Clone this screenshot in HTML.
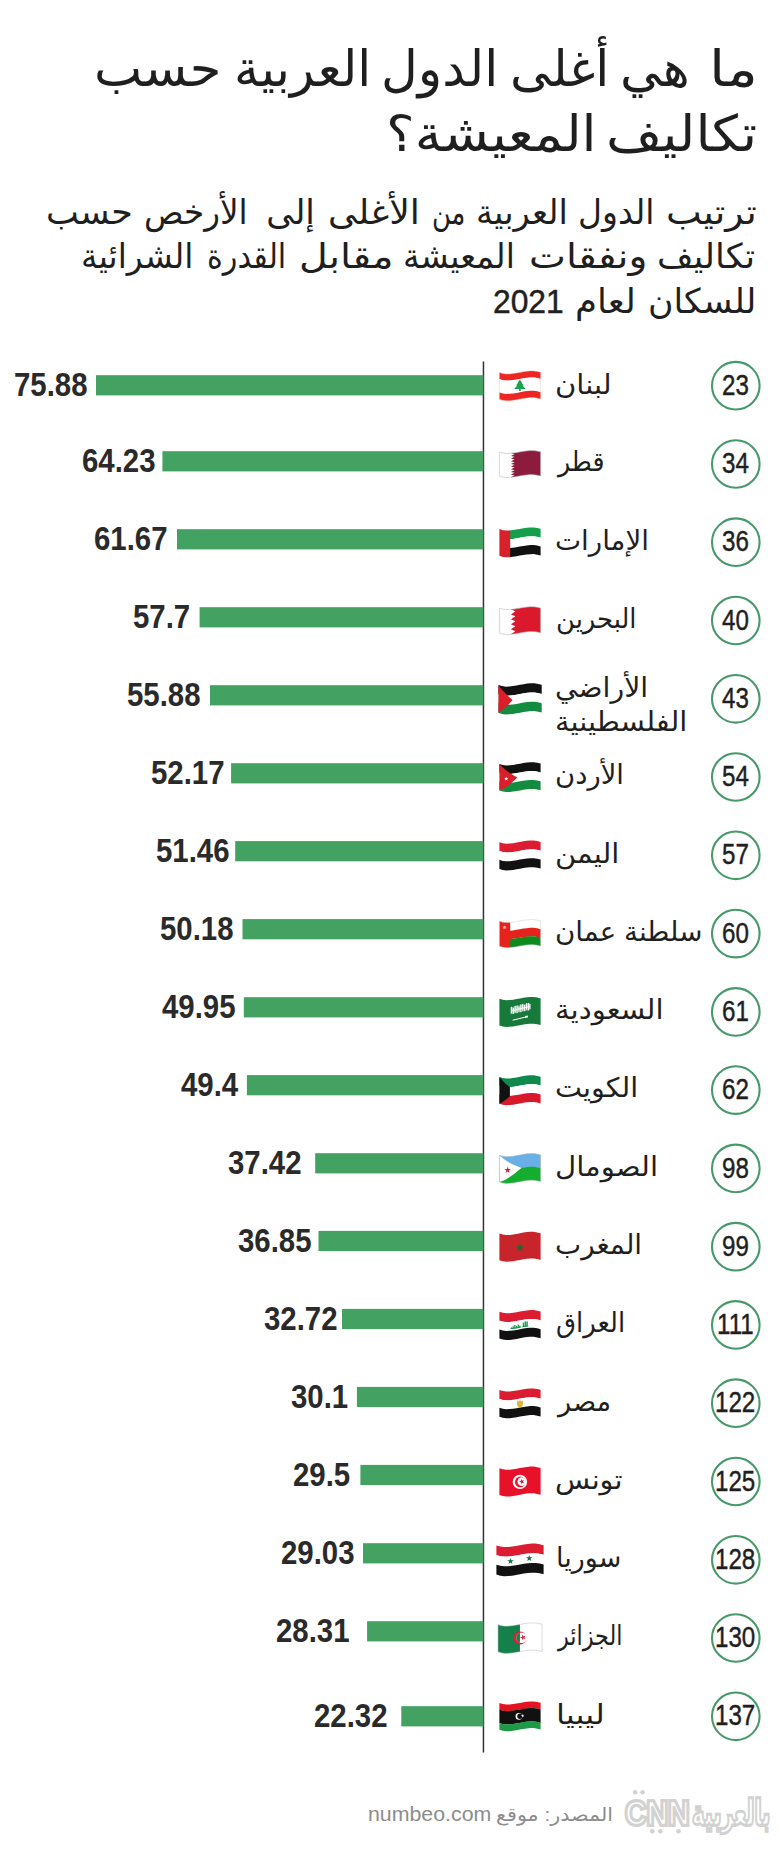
<!DOCTYPE html>
<html lang="ar">
<head>
<meta charset="utf-8">
<title>ما هي أغلى الدول العربية حسب تكاليف المعيشة؟</title>
<style>
html,body{margin:0;padding:0;background:#fff}
body{width:780px;height:1853px;position:relative;overflow:hidden;font-family:'Liberation Sans','DejaVu Sans',sans-serif;color:#1f1f1f}
h1,p,ul,li{margin:0;padding:0;font:inherit;list-style:none}
.t{position:absolute;white-space:nowrap;line-height:1;transform-origin:0 0;direction:rtl}
.t[dir=ltr]{direction:ltr}
svg{overflow:visible}
.g{position:absolute;left:0}
.h{font-size:50px}
.s{font-size:34.3px}
.y{font-size:33.8px;-webkit-text-stroke:.5px #222}
.n{font-size:27.0px}
.v{font-size:33.5px;font-weight:bold;color:#2a2a2a;transform:scaleX(.877)}
.r{font-size:30.2px;-webkit-text-stroke:.45px #222;transform:scaleX(.8)}
.f{font-size:18.7px;color:#8c8c8c}
.f2{font-size:20px;color:#8c8c8c}
.l1{font-size:35px;font-weight:bold;color:#d2d2d2;-webkit-text-stroke:4px #d2d2d2}
.l2{font-size:35px;font-weight:bold;color:#fff;-webkit-text-stroke:2.6px #d2d2d2}
.l3{font-size:35px;font-weight:bold;color:#d2d2d2;-webkit-text-stroke:3.4px #d2d2d2}
.l4{font-size:35px;font-weight:bold;color:#fff;-webkit-text-stroke:2.4px #d2d2d2}
</style>
</head>
<body>
<header>
<h1><span class="t h" style="left:709.2px;top:43.8px;transform:scaleX(1.161)">ما</span>
<span class="t h" style="left:620.2px;top:43.8px;transform:scaleX(1.023)">هي</span>
<span class="t h" style="left:510.3px;top:43.8px;transform:scaleX(1.011)">أغلى</span>
<span class="t h" style="left:381.0px;top:43.8px;transform:scaleX(1.012)">الدول</span>
<span class="t h" style="left:234.3px;top:43.8px;transform:scaleX(1.005)">العربية</span>
<span class="t h" style="left:93.6px;top:43.8px;transform:scaleX(1.022)">حسب</span>
<span class="t h" style="left:606.0px;top:109.4px;transform:scaleX(1.089)">تكاليف</span>
<span class="t h" style="left:385.7px;top:109.4px;transform:scaleX(1.079)">المعيشة؟</span></h1>
<p><span class="t s" style="left:665.8px;top:194.6px;transform:scaleX(1.106)">ترتيب</span>
<span class="t s" style="left:577.7px;top:194.6px;transform:scaleX(0.962)">الدول</span>
<span class="t s" style="left:475.7px;top:194.6px;transform:scaleX(0.981)">العربية</span>
<span class="t s" style="left:431.8px;top:194.6px;transform:scaleX(0.750)">من</span>
<span class="t s" style="left:327.9px;top:194.6px;transform:scaleX(1.057)">الأغلى</span>
<span class="t s" style="left:266.3px;top:194.6px;transform:scaleX(1.000)">إلى</span>
<span class="t s" style="left:144.1px;top:194.6px;transform:scaleX(0.952)">الأرخص</span>
<span class="t s" style="left:46.3px;top:194.6px;transform:scaleX(1.017)">حسب</span>
<span class="t s" style="left:657.2px;top:238.8px;transform:scaleX(1.029)">تكاليف</span>
<span class="t s" style="left:529.4px;top:238.8px;transform:scaleX(1.144)">ونفقات</span>
<span class="t s" style="left:403.1px;top:238.8px;transform:scaleX(0.967)">المعيشة</span>
<span class="t s" style="left:299.4px;top:238.8px;transform:scaleX(1.156)">مقابل</span>
<span class="t s" style="left:206.5px;top:238.8px;transform:scaleX(0.882)">القدرة</span>
<span class="t s" style="left:81.4px;top:238.8px;transform:scaleX(0.959)">الشرائية</span>
<span class="t s" style="left:648.0px;top:284.0px;transform:scaleX(1.013)">للسكان</span>
<span class="t s" style="left:575.2px;top:284.0px;transform:scaleX(1.037)">لعام</span>
<span class="t y" dir="ltr" style="left:493.4px;top:285.1px;transform:scaleX(0.940)">2021</span></p>
</header>
<main>
<svg class="g" style="top:0" width="780" height="1853" viewBox="0 0 780 1853"><rect x="482.7" y="361.5" width="1.5" height="1391" fill="#333"/></svg>
<ul>
<li><svg class="g" style="top:353px" width="780" height="64" viewBox="0 353 780 64"><rect x="96.0" y="375.2" width="387.4" height="20.2" fill="#43a161"/><circle cx="735.8" cy="385.7" r="23.8" fill="none" stroke="#48996a" stroke-width="2.1"/><svg x="499.4" y="370.9" width="41.2" height="29.9" viewBox="0 0 41.2 29.9" preserveAspectRatio="none"><path d="M0,1.7 3.4,2.7 6.9,3.2 10.3,3.1 13.7,2.7 17.2,2.1 20.6,1.5 24,0.8 27.5,0.3 30.9,0 34.3,0 37.8,0.6 41.2,1.4 41.2,8.1 37.8,7.2 34.3,6.7 30.9,6.7 27.5,7 24,7.5 20.6,8.2 17.2,8.8 13.7,9.4 10.3,9.7 6.9,9.9 3.4,9.4 0,8.4Z" fill="#ee2722"/><path d="M0,8.2 3.4,9.3 6.9,9.7 10.3,9.6 13.7,9.2 17.2,8.7 20.6,8 24,7.4 27.5,6.9 30.9,6.6 34.3,6.6 37.8,7.1 41.2,8 41.2,21.5 37.8,20.6 34.3,20.1 30.9,20.1 27.5,20.4 24,20.9 20.6,21.5 17.2,22.2 13.7,22.7 10.3,23.1 6.9,23.2 3.4,22.8 0,21.7Z" fill="#fff"/><path d="M0,21.6 3.4,22.6 6.9,23.1 10.3,22.9 13.7,22.6 17.2,22 20.6,21.4 24,20.7 27.5,20.2 30.9,19.9 34.3,19.9 37.8,20.4 41.2,21.3 41.2,28.1 37.8,27.3 34.3,26.7 30.9,26.7 27.5,27 24,27.5 20.6,28.2 17.2,28.8 13.7,29.4 10.3,29.8 6.9,29.9 3.4,29.4 0,28.4Z" fill="#ee2722"/><path d="M20.5,8.8 22.7,11.5 22,11.7 24.5,14.5 23.1,14.7 26.3,18.1 21.3,18.1 21.3,20.1 19.7,20.1 19.7,18.1 14.7,18.1 17.9,14.7 16.5,14.5 19,11.7 18.3,11.5Z" fill="#17a34a"/><path d="M0,1.7 3.4,2.7 6.9,3.2 10.3,3.1 13.7,2.7 17.2,2.1 20.6,1.5 24,0.8 27.5,0.3 30.9,0 34.3,0 37.8,0.6 41.2,1.4 41.2,28.1 37.8,27.3 34.3,26.7 30.9,26.7 27.5,27 24,27.5 20.6,28.2 17.2,28.8 13.7,29.4 10.3,29.8 6.9,29.9 3.4,29.4 0,28.4Z" fill="none" stroke="#e9b5b0" stroke-width="0.4"/></svg></svg>
<span class="t n" style="left:555.2px;top:371.6px;transform:scaleX(1.075)">لبنان</span>
<span class="t v" dir="ltr" style="left:13.9px;top:368.0px">75.88</span>
<span class="t r" dir="ltr" style="left:722.4px;top:369.8px">23</span></li>
<li><svg class="g" style="top:431px" width="780" height="64" viewBox="0 431 780 64"><rect x="162.4" y="451.2" width="321.0" height="20.2" fill="#43a161"/><circle cx="735.8" cy="464.0" r="23.8" fill="none" stroke="#48996a" stroke-width="2.1"/><svg x="499.4" y="450.6" width="41.2" height="26.9" viewBox="0 0 41.2 29.9" preserveAspectRatio="none"><path d="M0,1.7 4,2.9 8,3.2 12,2.9 12,29.6 8,29.9 4,29.6 0,28.4Z" fill="#fff"/><path d="M41.2,1.4 41.2,28.1 36.2,27 31.3,26.7 26.4,27.2 21.4,28 16.4,29 11.5,29.7 15.2,27.7 11.5,26.7 15.2,24.7 11.5,23.7 15.2,21.8 11.5,20.8 15.2,18.8 11.5,17.8 15.2,15.8 11.5,14.8 15.2,12.9 11.5,11.9 15.2,9.9 11.5,8.9 15.2,6.9 11.5,5.9 15.2,4 11.5,3 16.4,2.3 21.4,1.3 26.4,0.5 31.3,0 36.2,0.3Z" fill="#8d1b3d"/><path d="M0,1.7 3.4,2.7 6.9,3.2 10.3,3.1 13.7,2.7 17.2,2.1 20.6,1.5 24,0.8 27.5,0.3 30.9,0 34.3,0 37.8,0.6 41.2,1.4 41.2,28.1 37.8,27.3 34.3,26.7 30.9,26.7 27.5,27 24,27.5 20.6,28.2 17.2,28.8 13.7,29.4 10.3,29.8 6.9,29.9 3.4,29.4 0,28.4Z" fill="none" stroke="#b9b9b9" stroke-width="0.6"/></svg></svg>
<span class="t n" style="left:558.3px;top:449.3px;transform:scaleX(0.931)">قطر</span>
<span class="t v" dir="ltr" style="left:82.2px;top:444.0px">64.23</span>
<span class="t r" dir="ltr" style="left:722.0px;top:448.1px">34</span></li>
<li><svg class="g" style="top:510px" width="780" height="64" viewBox="0 510 780 64"><rect x="177.0" y="529.2" width="306.4" height="20.2" fill="#43a161"/><circle cx="735.8" cy="542.2" r="23.8" fill="none" stroke="#48996a" stroke-width="2.1"/><svg x="499.4" y="527.4" width="41.2" height="29.9" viewBox="0 0 41.2 29.9" preserveAspectRatio="none"><path d="M10,3.1 13.5,2.7 16.9,2.2 20.4,1.5 23.9,0.9 27.3,0.4 30.8,0.1 34.3,0 37.7,0.6 41.2,1.4 41.2,10.3 37.7,9.5 34.3,8.9 30.8,9 27.3,9.3 23.9,9.8 20.4,10.4 16.9,11.1 13.5,11.6 10,12Z" fill="#14a04b"/><path d="M10,11.8 13.5,11.5 16.9,10.9 20.4,10.3 23.9,9.6 27.3,9.1 30.8,8.8 34.3,8.8 37.7,9.3 41.2,10.2 41.2,19.2 37.7,18.4 34.3,17.8 30.8,17.9 27.3,18.2 23.9,18.7 20.4,19.3 16.9,20 13.5,20.5 10,20.9Z" fill="#fff"/><path d="M10,20.7 13.5,20.4 16.9,19.8 20.4,19.2 23.9,18.5 27.3,18 30.8,17.7 34.3,17.7 37.7,18.2 41.2,19.1 41.2,28.1 37.7,27.3 34.3,26.7 30.8,26.8 27.3,27.1 23.9,27.6 20.4,28.2 16.9,28.9 13.5,29.4 10,29.8Z" fill="#111"/><path d="M0,1.7 3.6,2.8 7.2,3.2 10.8,3 10.8,29.7 7.2,29.9 3.6,29.5 0,28.4Z" fill="#d8222b"/></svg></svg>
<span class="t n" style="left:555.3px;top:527.5px;transform:scaleX(1.026)">الإمارات</span>
<span class="t v" dir="ltr" style="left:94.1px;top:522.0px">61.67</span>
<span class="t r" dir="ltr" style="left:722.4px;top:526.3px">36</span></li>
<li><svg class="g" style="top:588px" width="780" height="64" viewBox="0 588 780 64"><rect x="199.6" y="607.2" width="283.8" height="20.2" fill="#43a161"/><circle cx="735.8" cy="620.5" r="23.8" fill="none" stroke="#48996a" stroke-width="2.1"/><svg x="499.4" y="606.7" width="41.2" height="27.8" viewBox="0 0 41.2 29.9" preserveAspectRatio="none"><path d="M0,1.7 4,2.9 8,3.2 12,2.9 12,29.6 8,29.9 4,29.6 0,28.4Z" fill="#fff"/><path d="M41.2,1.4 41.2,28.1 36.2,27 31.3,26.7 26.4,27.2 21.4,28 16.4,29 11.5,29.7 16,26.4 11.5,24.3 16,21 11.5,19 16,15.7 11.5,13.6 16,10.4 11.5,8.3 16,5 11.5,3 16.4,2.3 21.4,1.3 26.4,0.5 31.3,0 36.2,0.3Z" fill="#da1a2c"/><path d="M0,1.7 3.4,2.7 6.9,3.2 10.3,3.1 13.7,2.7 17.2,2.1 20.6,1.5 24,0.8 27.5,0.3 30.9,0 34.3,0 37.8,0.6 41.2,1.4 41.2,28.1 37.8,27.3 34.3,26.7 30.9,26.7 27.5,27 24,27.5 20.6,28.2 17.2,28.8 13.7,29.4 10.3,29.8 6.9,29.9 3.4,29.4 0,28.4Z" fill="none" stroke="#b9b9b9" stroke-width="0.6"/></svg></svg>
<span class="t n" style="left:555.5px;top:605.8px;transform:scaleX(0.955)">البحرين</span>
<span class="t v" dir="ltr" style="left:133.2px;top:600.0px">57.7</span>
<span class="t r" dir="ltr" style="left:722.4px;top:604.6px">40</span></li>
<li><svg class="g" style="top:666px" width="780" height="64" viewBox="0 666 780 64"><rect x="210.0" y="685.2" width="273.4" height="20.2" fill="#43a161"/><circle cx="735.8" cy="698.8" r="23.8" fill="none" stroke="#48996a" stroke-width="2.1"/><svg x="498.4" y="683.3" width="43.3" height="31.1" viewBox="0 0 41.2 29.9" preserveAspectRatio="none"><path d="M0,1.7 3.4,2.7 6.9,3.2 10.3,3.1 13.7,2.7 17.2,2.1 20.6,1.5 24,0.8 27.5,0.3 30.9,0 34.3,0 37.8,0.6 41.2,1.4 41.2,10.3 37.8,9.5 34.3,8.9 30.9,8.9 27.5,9.2 24,9.7 20.6,10.4 17.2,11 13.7,11.6 10.3,12 6.9,12.1 3.4,11.6 0,10.6Z" fill="#111"/><path d="M0,10.4 3.4,11.5 6.9,11.9 10.3,11.8 13.7,11.4 17.2,10.9 20.6,10.2 24,9.6 27.5,9.1 30.9,8.8 34.3,8.8 37.8,9.3 41.2,10.2 41.2,19.2 37.8,18.4 34.3,17.8 30.9,17.8 27.5,18.1 24,18.6 20.6,19.3 17.2,19.9 13.7,20.5 10.3,20.9 6.9,21 3.4,20.5 0,19.5Z" fill="#fff"/><path d="M0,19.3 3.4,20.4 6.9,20.8 10.3,20.7 13.7,20.3 17.2,19.8 20.6,19.1 24,18.5 27.5,18 30.9,17.7 34.3,17.7 37.8,18.2 41.2,19.1 41.2,28.1 37.8,27.3 34.3,26.7 30.9,26.7 27.5,27 24,27.5 20.6,28.2 17.2,28.8 13.7,29.4 10.3,29.8 6.9,29.9 3.4,29.4 0,28.4Z" fill="#148c3f"/><path d="M0,1.7 3.4,6.1 6.8,9.9 10.1,13.1 13.5,16.1 10.1,19.8 6.8,23.2 3.4,26.1 0,28.4Z" fill="#da1f2b"/></svg></svg>
<span class="t n" style="left:555.3px;top:674.6px;transform:scaleX(1.048)">الأراضي</span>
<span class="t n" style="left:555.3px;top:708.7px;transform:scaleX(1.072)">الفلسطينية</span>
<span class="t v" dir="ltr" style="left:126.5px;top:678.0px">55.88</span>
<span class="t r" dir="ltr" style="left:722.4px;top:682.9px">43</span></li>
<li><svg class="g" style="top:745px" width="780" height="64" viewBox="0 745 780 64"><rect x="231.1" y="763.2" width="252.3" height="20.2" fill="#43a161"/><circle cx="735.8" cy="777.0" r="23.8" fill="none" stroke="#48996a" stroke-width="2.1"/><svg x="499.4" y="762.2" width="41.2" height="29.9" viewBox="0 0 41.2 29.9" preserveAspectRatio="none"><path d="M0,1.7 3.4,2.7 6.9,3.2 10.3,3.1 13.7,2.7 17.2,2.1 20.6,1.5 24,0.8 27.5,0.3 30.9,0 34.3,0 37.8,0.6 41.2,1.4 41.2,10.3 37.8,9.5 34.3,8.9 30.9,8.9 27.5,9.2 24,9.7 20.6,10.4 17.2,11 13.7,11.6 10.3,12 6.9,12.1 3.4,11.6 0,10.6Z" fill="#111"/><path d="M0,10.4 3.4,11.5 6.9,11.9 10.3,11.8 13.7,11.4 17.2,10.9 20.6,10.2 24,9.6 27.5,9.1 30.9,8.8 34.3,8.8 37.8,9.3 41.2,10.2 41.2,19.2 37.8,18.4 34.3,17.8 30.9,17.8 27.5,18.1 24,18.6 20.6,19.3 17.2,19.9 13.7,20.5 10.3,20.9 6.9,21 3.4,20.5 0,19.5Z" fill="#fff"/><path d="M0,19.3 3.4,20.4 6.9,20.8 10.3,20.7 13.7,20.3 17.2,19.8 20.6,19.1 24,18.5 27.5,18 30.9,17.7 34.3,17.7 37.8,18.2 41.2,19.1 41.2,28.1 37.8,27.3 34.3,26.7 30.9,26.7 27.5,27 24,27.5 20.6,28.2 17.2,28.8 13.7,29.4 10.3,29.8 6.9,29.9 3.4,29.4 0,28.4Z" fill="#148c3f"/><path d="M0,1.7 3.6,5.4 7.2,8.5 10.8,11 14.4,13.3 18,15.3 14.4,18.6 10.8,21.7 7.2,24.6 3.6,26.8 0,28.4Z" fill="#da1f2b"/><path d="M6.8,14.5 7.4,15.7 8.7,15.9 7.8,16.9 8,18.2 6.8,17.6 5.6,18.2 5.8,16.9 4.9,15.9 6.2,15.7Z" fill="#fff"/></svg></svg>
<span class="t n" style="left:555.4px;top:762.3px;transform:scaleX(1.017)">الأردن</span>
<span class="t v" dir="ltr" style="left:150.8px;top:756.0px">52.17</span>
<span class="t r" dir="ltr" style="left:722.0px;top:761.1px">54</span></li>
<li><svg class="g" style="top:823px" width="780" height="64" viewBox="0 823 780 64"><rect x="235.2" y="841.1" width="248.2" height="20.2" fill="#43a161"/><circle cx="735.8" cy="855.3" r="23.8" fill="none" stroke="#48996a" stroke-width="2.1"/><svg x="499.4" y="840.5" width="41.2" height="29.9" viewBox="0 0 41.2 29.9" preserveAspectRatio="none"><path d="M0,1.7 3.4,2.7 6.9,3.2 10.3,3.1 13.7,2.7 17.2,2.1 20.6,1.5 24,0.8 27.5,0.3 30.9,0 34.3,0 37.8,0.6 41.2,1.4 41.2,10.3 37.8,9.5 34.3,8.9 30.9,8.9 27.5,9.2 24,9.7 20.6,10.4 17.2,11 13.7,11.6 10.3,12 6.9,12.1 3.4,11.6 0,10.6Z" fill="#dc1c30"/><path d="M0,10.4 3.4,11.5 6.9,11.9 10.3,11.8 13.7,11.4 17.2,10.9 20.6,10.2 24,9.6 27.5,9.1 30.9,8.8 34.3,8.8 37.8,9.3 41.2,10.2 41.2,19.2 37.8,18.4 34.3,17.8 30.9,17.8 27.5,18.1 24,18.6 20.6,19.3 17.2,19.9 13.7,20.5 10.3,20.9 6.9,21 3.4,20.5 0,19.5Z" fill="#fff"/><path d="M0,19.3 3.4,20.4 6.9,20.8 10.3,20.7 13.7,20.3 17.2,19.8 20.6,19.1 24,18.5 27.5,18 30.9,17.7 34.3,17.7 37.8,18.2 41.2,19.1 41.2,28.1 37.8,27.3 34.3,26.7 30.9,26.7 27.5,27 24,27.5 20.6,28.2 17.2,28.8 13.7,29.4 10.3,29.8 6.9,29.9 3.4,29.4 0,28.4Z" fill="#111"/></svg></svg>
<span class="t n" style="left:555.3px;top:840.6px;transform:scaleX(1.070)">اليمن</span>
<span class="t v" dir="ltr" style="left:156.2px;top:833.9px">51.46</span>
<span class="t r" dir="ltr" style="left:722.4px;top:839.4px">57</span></li>
<li><svg class="g" style="top:901px" width="780" height="64" viewBox="0 901 780 64"><rect x="242.5" y="919.1" width="240.9" height="20.2" fill="#43a161"/><circle cx="735.8" cy="933.6" r="23.8" fill="none" stroke="#48996a" stroke-width="2.1"/><svg x="499.4" y="919.6" width="41.2" height="28.1" viewBox="0 0 41.2 29.9" preserveAspectRatio="none"><path d="M10,3.1 13.5,2.7 16.9,2.2 20.4,1.5 23.9,0.9 27.3,0.4 30.8,0.1 34.3,0 37.7,0.6 41.2,1.4 41.2,10.3 37.7,9.5 34.3,8.9 30.8,9 27.3,9.3 23.9,9.8 20.4,10.4 16.9,11.1 13.5,11.6 10,12Z" fill="#fff"/><path d="M10,11.8 13.5,11.5 16.9,10.9 20.4,10.3 23.9,9.6 27.3,9.1 30.8,8.8 34.3,8.8 37.7,9.3 41.2,10.2 41.2,19.2 37.7,18.4 34.3,17.8 30.8,17.9 27.3,18.2 23.9,18.7 20.4,19.3 16.9,20 13.5,20.5 10,20.9Z" fill="#e6221c"/><path d="M10,20.7 13.5,20.4 16.9,19.8 20.4,19.2 23.9,18.5 27.3,18 30.8,17.7 34.3,17.7 37.7,18.2 41.2,19.1 41.2,28.1 37.7,27.3 34.3,26.7 30.8,26.8 27.3,27.1 23.9,27.6 20.4,28.2 16.9,28.9 13.5,29.4 10,29.8Z" fill="#0f8a1c"/><path d="M0,1.7 3.6,2.8 7.2,3.2 10.8,3 10.8,29.7 7.2,29.9 3.6,29.5 0,28.4Z" fill="#e6221c"/><path d="M5.2,6.1 5.8,7.4 7.3,7.6 6.2,8.6 6.5,10.1 5.2,9.4 3.9,10.1 4.2,8.6 3.1,7.6 4.6,7.4Z" fill="#f7b7b0"/><path d="M0,1.7 3.4,2.7 6.9,3.2 10.3,3.1 13.7,2.7 17.2,2.1 20.6,1.5 24,0.8 27.5,0.3 30.9,0 34.3,0 37.8,0.6 41.2,1.4 41.2,28.1 37.8,27.3 34.3,26.7 30.9,26.7 27.5,27 24,27.5 20.6,28.2 17.2,28.8 13.7,29.4 10.3,29.8 6.9,29.9 3.4,29.4 0,28.4Z" fill="none" stroke="#c9c9c9" stroke-width="0.5"/></svg></svg>
<span class="t n" style="left:555.3px;top:918.9px;transform:scaleX(1.026)">سلطنة عمان</span>
<span class="t v" dir="ltr" style="left:159.9px;top:911.9px">50.18</span>
<span class="t r" dir="ltr" style="left:722.0px;top:917.7px">60</span></li>
<li><svg class="g" style="top:979px" width="780" height="64" viewBox="0 979 780 64"><rect x="243.8" y="997.2" width="239.6" height="20.2" fill="#43a161"/><circle cx="735.8" cy="1011.9" r="23.8" fill="none" stroke="#48996a" stroke-width="2.1"/><svg x="499.4" y="997.0" width="41.2" height="29.9" viewBox="0 0 41.2 29.9" preserveAspectRatio="none"><path d="M0,1.7 3.4,2.7 6.9,3.2 10.3,3.1 13.7,2.7 17.2,2.1 20.6,1.5 24,0.8 27.5,0.3 30.9,0 34.3,0 37.8,0.6 41.2,1.4 41.2,28.1 37.8,27.3 34.3,26.7 30.9,26.7 27.5,27 24,27.5 20.6,28.2 17.2,28.8 13.7,29.4 10.3,29.8 6.9,29.9 3.4,29.4 0,28.4Z" fill="#177a3b"/><path d="M11.3,10.3 30.7,5.9 30.7,12.9 11.3,17.3Z" fill="#fff" fill-opacity="0.38"/><path d="M11.4,9.9 12.6,9.7 12.6,16.3 11.4,16.5Z" fill="#fff"/><path d="M13.3,10.9 14.5,10.7 14.5,16.9 13.3,17.1Z" fill="#fff"/><path d="M15.2,9.1 16.3,8.8 16.3,15.4 15.2,15.7Z" fill="#fff"/><path d="M17.1,8.6 18.2,8.3 18.2,15.9 17.1,16.2Z" fill="#fff"/><path d="M19,9.5 20.1,9.2 20.1,14.4 19,14.7Z" fill="#fff"/><path d="M20.9,7.6 22,7.3 22,14.9 20.9,15.2Z" fill="#fff"/><path d="M22.8,7.1 23.9,6.8 23.9,13.4 22.8,13.7Z" fill="#fff"/><path d="M24.7,8.1 25.8,7.8 25.8,14 24.7,14.3Z" fill="#fff"/><path d="M26.6,6.2 27.8,6 27.8,12.6 26.6,12.8Z" fill="#fff"/><path d="M28.5,5.9 29.6,5.7 29.6,13.3 28.5,13.5Z" fill="#fff"/><path d="M30,7 31.1,6.9 31.1,12.1 30,12.2Z" fill="#fff"/><path d="M11.6,13.3 30.6,8.9 30.6,9.9 11.6,14.3Z" fill="#fff" fill-opacity="0.9"/><path d="M13.2,22.7 28.4,19 28.4,20.1 13.2,23.8Z" fill="#fff"/><path d="M25.6,19 28.4,18.5 28.4,20.6 25.6,21.1Z" fill="#fff" fill-opacity="0.9"/></svg></svg>
<span class="t n" style="left:555.2px;top:997.2px;transform:scaleX(1.077)">السعودية</span>
<span class="t v" dir="ltr" style="left:162.2px;top:990.0px">49.95</span>
<span class="t r" dir="ltr" style="left:722.0px;top:996.0px">61</span></li>
<li><svg class="g" style="top:1058px" width="780" height="64" viewBox="0 1058 780 64"><rect x="246.9" y="1075.1" width="236.5" height="20.2" fill="#43a161"/><circle cx="735.8" cy="1090.1" r="23.8" fill="none" stroke="#48996a" stroke-width="2.1"/><svg x="499.4" y="1075.3" width="41.2" height="29.9" viewBox="0 0 41.2 29.9" preserveAspectRatio="none"><path d="M0,1.7 3.4,2.7 6.9,3.2 10.3,3.1 13.7,2.7 17.2,2.1 20.6,1.5 24,0.8 27.5,0.3 30.9,0 34.3,0 37.8,0.6 41.2,1.4 41.2,10.3 37.8,9.5 34.3,8.9 30.9,8.9 27.5,9.2 24,9.7 20.6,10.4 17.2,11 13.7,11.6 10.3,12 6.9,12.1 3.4,11.6 0,10.6Z" fill="#0f8a4c"/><path d="M0,10.4 3.4,11.5 6.9,11.9 10.3,11.8 13.7,11.4 17.2,10.9 20.6,10.2 24,9.6 27.5,9.1 30.9,8.8 34.3,8.8 37.8,9.3 41.2,10.2 41.2,19.2 37.8,18.4 34.3,17.8 30.9,17.8 27.5,18.1 24,18.6 20.6,19.3 17.2,19.9 13.7,20.5 10.3,20.9 6.9,21 3.4,20.5 0,19.5Z" fill="#fff"/><path d="M0,19.3 3.4,20.4 6.9,20.8 10.3,20.7 13.7,20.3 17.2,19.8 20.6,19.1 24,18.5 27.5,18 30.9,17.7 34.3,17.7 37.8,18.2 41.2,19.1 41.2,28.1 37.8,27.3 34.3,26.7 30.9,26.7 27.5,27 24,27.5 20.6,28.2 17.2,28.8 13.7,29.4 10.3,29.8 6.9,29.9 3.4,29.4 0,28.4Z" fill="#d8182b"/><path d="M0,1.7 3.5,5.7 7,9.1 10.5,12 10.5,20.9 7,24 3.5,26.5 0,28.4Z" fill="#111"/></svg></svg>
<span class="t n" style="left:555.3px;top:1075.4px;transform:scaleX(1.059)">الكويت</span>
<span class="t v" dir="ltr" style="left:180.7px;top:1067.9px">49.4</span>
<span class="t r" dir="ltr" style="left:722.0px;top:1074.2px">62</span></li>
<li><svg class="g" style="top:1136px" width="780" height="64" viewBox="0 1136 780 64"><rect x="315.2" y="1153.2" width="168.2" height="20.2" fill="#43a161"/><circle cx="735.8" cy="1168.4" r="23.8" fill="none" stroke="#48996a" stroke-width="2.1"/><svg x="499.4" y="1153.5" width="41.2" height="29.9" viewBox="0 0 41.2 29.9" preserveAspectRatio="none"><path d="M0,1.7 3.4,2.7 6.9,3.2 10.3,3.1 13.7,2.7 17.2,2.1 20.6,1.5 24,0.8 27.5,0.3 30.9,0 34.3,0 37.8,0.6 41.2,1.4 41.2,14.8 37.8,13.9 34.3,13.4 30.9,13.4 27.5,13.7 24,14.2 20.6,14.8 17.2,15.5 13.7,16 10.3,16.4 6.9,16.5 3.4,16.1 0,15Z" fill="#6ab0e6"/><path d="M0,14.9 3.4,15.9 6.9,16.4 10.3,16.3 13.7,15.9 17.2,15.3 20.6,14.7 24,14 27.5,13.5 30.9,13.2 34.3,13.2 37.8,13.8 41.2,14.6 41.2,28.1 37.8,27.3 34.3,26.7 30.9,26.7 27.5,27 24,27.5 20.6,28.2 17.2,28.8 13.7,29.4 10.3,29.8 6.9,29.9 3.4,29.4 0,28.4Z" fill="#14ad2e"/><path d="M0,1.7 3.7,5 7.3,7.6 11,9.7 14.7,11.5 18.3,13 22,14.6 18.3,17.5 14.7,20.4 11,23 7.3,25.4 3.7,27.3 0,28.4Z" fill="#fff"/><path d="M8.3,13 9.1,15.4 11.6,15.4 9.6,17 10.4,19.4 8.3,17.9 6.2,19.4 7,17 5,15.4 7.5,15.4Z" fill="#d8202c"/><path d="M0,1.7 3.4,2.7 6.9,3.2 10.3,3.1 13.7,2.7 17.2,2.1 20.6,1.5 24,0.8 27.5,0.3 30.9,0 34.3,0 37.8,0.6 41.2,1.4 41.2,28.1 37.8,27.3 34.3,26.7 30.9,26.7 27.5,27 24,27.5 20.6,28.2 17.2,28.8 13.7,29.4 10.3,29.8 6.9,29.9 3.4,29.4 0,28.4Z" fill="none" stroke="#b5b5b5" stroke-width="0.5"/></svg></svg>
<span class="t n" style="left:555.2px;top:1153.7px;transform:scaleX(1.081)">الصومال</span>
<span class="t v" dir="ltr" style="left:227.9px;top:1146.0px">37.42</span>
<span class="t r" dir="ltr" style="left:722.4px;top:1152.5px">98</span></li>
<li><svg class="g" style="top:1214px" width="780" height="64" viewBox="0 1214 780 64"><rect x="318.5" y="1230.9" width="164.9" height="20.2" fill="#43a161"/><circle cx="735.8" cy="1246.7" r="23.8" fill="none" stroke="#48996a" stroke-width="2.1"/><svg x="499.4" y="1231.8" width="41.2" height="29.9" viewBox="0 0 41.2 29.9" preserveAspectRatio="none"><path d="M0,1.7 3.4,2.7 6.9,3.2 10.3,3.1 13.7,2.7 17.2,2.1 20.6,1.5 24,0.8 27.5,0.3 30.9,0 34.3,0 37.8,0.6 41.2,1.4 41.2,28.1 37.8,27.3 34.3,26.7 30.9,26.7 27.5,27 24,27.5 20.6,28.2 17.2,28.8 13.7,29.4 10.3,29.8 6.9,29.9 3.4,29.4 0,28.4Z" fill="#c8242b"/><path d="M20.6,11.5 21.9,14.1 24.7,14.5 22.6,16.5 23.1,19.3 20.6,18 18.1,19.3 18.6,16.5 16.5,14.5 19.3,14.1Z" fill="#30602c"/></svg></svg>
<span class="t n" style="left:555.3px;top:1232.0px;transform:scaleX(1.028)">المغرب</span>
<span class="t v" dir="ltr" style="left:237.9px;top:1223.7px">36.85</span>
<span class="t r" dir="ltr" style="left:722.4px;top:1230.8px">99</span></li>
<li><svg class="g" style="top:1292px" width="780" height="64" viewBox="0 1292 780 64"><rect x="342.0" y="1308.9" width="141.4" height="20.2" fill="#43a161"/><circle cx="735.8" cy="1324.9" r="23.8" fill="none" stroke="#48996a" stroke-width="2.1"/><svg x="499.4" y="1310.1" width="41.2" height="29.9" viewBox="0 0 41.2 29.9" preserveAspectRatio="none"><path d="M0,1.7 3.4,2.7 6.9,3.2 10.3,3.1 13.7,2.7 17.2,2.1 20.6,1.5 24,0.8 27.5,0.3 30.9,0 34.3,0 37.8,0.6 41.2,1.4 41.2,10.3 37.8,9.5 34.3,8.9 30.9,8.9 27.5,9.2 24,9.7 20.6,10.4 17.2,11 13.7,11.6 10.3,12 6.9,12.1 3.4,11.6 0,10.6Z" fill="#dc1c30"/><path d="M0,10.4 3.4,11.5 6.9,11.9 10.3,11.8 13.7,11.4 17.2,10.9 20.6,10.2 24,9.6 27.5,9.1 30.9,8.8 34.3,8.8 37.8,9.3 41.2,10.2 41.2,19.2 37.8,18.4 34.3,17.8 30.9,17.8 27.5,18.1 24,18.6 20.6,19.3 17.2,19.9 13.7,20.5 10.3,20.9 6.9,21 3.4,20.5 0,19.5Z" fill="#fff"/><path d="M0,19.3 3.4,20.4 6.9,20.8 10.3,20.7 13.7,20.3 17.2,19.8 20.6,19.1 24,18.5 27.5,18 30.9,17.7 34.3,17.7 37.8,18.2 41.2,19.1 41.2,28.1 37.8,27.3 34.3,26.7 30.9,26.7 27.5,27 24,27.5 20.6,28.2 17.2,28.8 13.7,29.4 10.3,29.8 6.9,29.9 3.4,29.4 0,28.4Z" fill="#111"/><rect x="11.6" y="17.3" width="1.2" height="1.6" fill="#159a49"/><rect x="13.2" y="16.1" width="1.2" height="2.6" fill="#159a49"/><rect x="14.8" y="14.9" width="1.3" height="3.6" fill="#159a49"/><rect x="16.6" y="15.8" width="1.2" height="2.4" fill="#159a49"/><rect x="18.2" y="14.5" width="1.3" height="3.4" fill="#159a49"/><rect x="19.8" y="15.6" width="1.2" height="2" fill="#159a49"/><rect x="23.4" y="12.5" width="1.3" height="4.4" fill="#159a49"/><rect x="25.2" y="11.4" width="1.4" height="5.2" fill="#159a49"/><rect x="27" y="11.3" width="1.4" height="5" fill="#159a49"/><path d="M11,18.2 14.5,17.7 17.9,17.1 21.4,16.5 21.4,17.5 17.9,18.1 14.5,18.7 11,19.2Z" fill="#159a49"/><path d="M23,16.2 26,15.7 29,15.3 29,16.3 26,16.7 23,17.2Z" fill="#159a49"/></svg></svg>
<span class="t n" style="left:556.4px;top:1310.2px;transform:scaleX(0.958)">العراق</span>
<span class="t v" dir="ltr" style="left:263.9px;top:1301.7px">32.72</span>
<span class="t r" dir="ltr" style="left:717.2px;top:1309.0px">111</span></li>
<li><svg class="g" style="top:1371px" width="780" height="64" viewBox="0 1371 780 64"><rect x="356.9" y="1386.9" width="126.5" height="20.2" fill="#43a161"/><circle cx="735.8" cy="1403.2" r="23.8" fill="none" stroke="#48996a" stroke-width="2.1"/><svg x="499.4" y="1388.4" width="41.2" height="29.9" viewBox="0 0 41.2 29.9" preserveAspectRatio="none"><path d="M0,1.7 3.4,2.7 6.9,3.2 10.3,3.1 13.7,2.7 17.2,2.1 20.6,1.5 24,0.8 27.5,0.3 30.9,0 34.3,0 37.8,0.6 41.2,1.4 41.2,10.3 37.8,9.5 34.3,8.9 30.9,8.9 27.5,9.2 24,9.7 20.6,10.4 17.2,11 13.7,11.6 10.3,12 6.9,12.1 3.4,11.6 0,10.6Z" fill="#dc1c30"/><path d="M0,10.4 3.4,11.5 6.9,11.9 10.3,11.8 13.7,11.4 17.2,10.9 20.6,10.2 24,9.6 27.5,9.1 30.9,8.8 34.3,8.8 37.8,9.3 41.2,10.2 41.2,19.2 37.8,18.4 34.3,17.8 30.9,17.8 27.5,18.1 24,18.6 20.6,19.3 17.2,19.9 13.7,20.5 10.3,20.9 6.9,21 3.4,20.5 0,19.5Z" fill="#fff"/><path d="M0,19.3 3.4,20.4 6.9,20.8 10.3,20.7 13.7,20.3 17.2,19.8 20.6,19.1 24,18.5 27.5,18 30.9,17.7 34.3,17.7 37.8,18.2 41.2,19.1 41.2,28.1 37.8,27.3 34.3,26.7 30.9,26.7 27.5,27 24,27.5 20.6,28.2 17.2,28.8 13.7,29.4 10.3,29.8 6.9,29.9 3.4,29.4 0,28.4Z" fill="#111"/><path d="M17.6,12.2 19.6,13 20.6,11.4 21.6,13 23.6,12.2 23.4,17 21.8,19.2 19.4,19.2 17.8,17Z" fill="#dcb33a"/></svg></svg>
<span class="t n" style="left:558.4px;top:1388.5px;transform:scaleX(1.008)">مصر</span>
<span class="t v" dir="ltr" style="left:290.6px;top:1379.7px">30.1</span>
<span class="t r" dir="ltr" style="left:715.2px;top:1387.3px">122</span></li>
<li><svg class="g" style="top:1449px" width="780" height="64" viewBox="0 1449 780 64"><rect x="360.4" y="1464.9" width="123.0" height="20.2" fill="#43a161"/><circle cx="735.8" cy="1481.5" r="23.8" fill="none" stroke="#48996a" stroke-width="2.1"/><svg x="499.4" y="1466.6" width="41.2" height="29.9" viewBox="0 0 41.2 29.9" preserveAspectRatio="none"><path d="M0,1.7 3.4,2.7 6.9,3.2 10.3,3.1 13.7,2.7 17.2,2.1 20.6,1.5 24,0.8 27.5,0.3 30.9,0 34.3,0 37.8,0.6 41.2,1.4 41.2,28.1 37.8,27.3 34.3,26.7 30.9,26.7 27.5,27 24,27.5 20.6,28.2 17.2,28.8 13.7,29.4 10.3,29.8 6.9,29.9 3.4,29.4 0,28.4Z" fill="#e8112a"/><circle cx="20.5" cy="15.3" r="7.2" fill="#fff"/><circle cx="20.9" cy="15.3" r="5.3" fill="#e8112a"/><circle cx="22.4" cy="15" r="4.3" fill="#fff"/><path d="M19.6,15 21.5,14.3 21.5,12.3 22.7,13.9 24.7,13.3 23.5,15 24.7,16.6 22.7,16.1 21.5,17.7 21.5,15.6Z" fill="#e8112a"/></svg></svg>
<span class="t n" style="left:555.3px;top:1466.8px;transform:scaleX(1.064)">تونس</span>
<span class="t v" dir="ltr" style="left:292.9px;top:1457.7px">29.5</span>
<span class="t r" dir="ltr" style="left:715.2px;top:1465.6px">125</span></li>
<li><svg class="g" style="top:1527px" width="780" height="64" viewBox="0 1527 780 64"><rect x="363.0" y="1543.2" width="120.4" height="20.2" fill="#43a161"/><circle cx="735.8" cy="1559.8" r="23.8" fill="none" stroke="#48996a" stroke-width="2.1"/><svg x="496.4" y="1543.6" width="47.2" height="32.6" viewBox="0 0 41.2 29.9" preserveAspectRatio="none"><path d="M0,1.7 3.4,2.7 6.9,3.2 10.3,3.1 13.7,2.7 17.2,2.1 20.6,1.5 24,0.8 27.5,0.3 30.9,0 34.3,0 37.8,0.6 41.2,1.4 41.2,10.3 37.8,9.5 34.3,8.9 30.9,8.9 27.5,9.2 24,9.7 20.6,10.4 17.2,11 13.7,11.6 10.3,12 6.9,12.1 3.4,11.6 0,10.6Z" fill="#dc1c30"/><path d="M0,10.4 3.4,11.5 6.9,11.9 10.3,11.8 13.7,11.4 17.2,10.9 20.6,10.2 24,9.6 27.5,9.1 30.9,8.8 34.3,8.8 37.8,9.3 41.2,10.2 41.2,19.2 37.8,18.4 34.3,17.8 30.9,17.8 27.5,18.1 24,18.6 20.6,19.3 17.2,19.9 13.7,20.5 10.3,20.9 6.9,21 3.4,20.5 0,19.5Z" fill="#fff"/><path d="M0,19.3 3.4,20.4 6.9,20.8 10.3,20.7 13.7,20.3 17.2,19.8 20.6,19.1 24,18.5 27.5,18 30.9,17.7 34.3,17.7 37.8,18.2 41.2,19.1 41.2,28.1 37.8,27.3 34.3,26.7 30.9,26.7 27.5,27 24,27.5 20.6,28.2 17.2,28.8 13.7,29.4 10.3,29.8 6.9,29.9 3.4,29.4 0,28.4Z" fill="#111"/><path d="M12.3,13.2 13,15.3 15.2,15.3 13.4,16.6 14.1,18.7 12.3,17.4 10.5,18.7 11.2,16.6 9.4,15.3 11.6,15.3Z" fill="#0e7040"/><path d="M28.7,10.6 29.4,12.6 31.6,12.6 29.8,13.9 30.5,16 28.7,14.8 26.9,16 27.6,13.9 25.8,12.6 28,12.6Z" fill="#0e7040"/></svg></svg>
<span class="t n" style="left:555.6px;top:1545.0px;transform:scaleX(0.998)">سوريا</span>
<span class="t v" dir="ltr" style="left:280.5px;top:1536.0px">29.03</span>
<span class="t r" dir="ltr" style="left:715.2px;top:1543.8px">128</span></li>
<li><svg class="g" style="top:1606px" width="780" height="64" viewBox="0 1606 780 64"><rect x="367.1" y="1621.2" width="116.3" height="20.2" fill="#43a161"/><circle cx="735.8" cy="1638.0" r="23.8" fill="none" stroke="#48996a" stroke-width="2.1"/><svg x="498.0" y="1622.9" width="44.1" height="30.5" viewBox="0 0 41.2 29.9" preserveAspectRatio="none"><path d="M20,1.6 23.5,0.9 27.1,0.4 30.6,0.1 34.1,0 37.7,0.5 41.2,1.4 41.2,28.1 37.7,27.2 34.1,26.7 30.6,26.8 27.1,27.1 23.5,27.6 20,28.3Z" fill="#fff"/><path d="M0,1.7 3.4,2.7 6.8,3.2 10.2,3.1 13.7,2.7 17.1,2.1 20.5,1.5 20.5,28.2 17.1,28.8 13.7,29.4 10.2,29.8 6.8,29.9 3.4,29.4 0,28.4Z" fill="#14804a"/><circle cx="20.5" cy="14.8" r="6.4" fill="#d8213a"/><circle cx="22.2" cy="14.5" r="5.2" fill="#fff"/><path d="M20.5,9.6 A5.2,5.2 0 0 0 20.5,19.4Z" fill="#14804a"/><path d="M20.5,14.3 22.5,13.6 22.5,11.5 23.8,13.2 25.7,12.6 24.6,14.3 25.7,16 23.8,15.4 22.5,17.1 22.5,15Z" fill="#d8213a"/><path d="M0,1.7 3.4,2.7 6.9,3.2 10.3,3.1 13.7,2.7 17.2,2.1 20.6,1.5 24,0.8 27.5,0.3 30.9,0 34.3,0 37.8,0.6 41.2,1.4 41.2,28.1 37.8,27.3 34.3,26.7 30.9,26.7 27.5,27 24,27.5 20.6,28.2 17.2,28.8 13.7,29.4 10.3,29.8 6.9,29.9 3.4,29.4 0,28.4Z" fill="none" stroke="#bdbdbd" stroke-width="0.5"/></svg></svg>
<span class="t n" style="left:558.2px;top:1623.3px;transform:scaleX(0.826)">الجزائر</span>
<span class="t v" dir="ltr" style="left:276.2px;top:1614.0px">28.31</span>
<span class="t r" dir="ltr" style="left:715.2px;top:1622.1px">130</span></li>
<li><svg class="g" style="top:1684px" width="780" height="64" viewBox="0 1684 780 64"><rect x="401.3" y="1706.2" width="82.1" height="20.2" fill="#43a161"/><circle cx="735.8" cy="1716.3" r="23.8" fill="none" stroke="#48996a" stroke-width="2.1"/><svg x="499.4" y="1701.4" width="41.2" height="29.9" viewBox="0 0 41.2 29.9" preserveAspectRatio="none"><path d="M0,1.7 3.4,2.7 6.9,3.2 10.3,3.1 13.7,2.7 17.2,2.1 20.6,1.5 24,0.8 27.5,0.3 30.9,0 34.3,0 37.8,0.6 41.2,1.4 41.2,8.1 37.8,7.2 34.3,6.7 30.9,6.7 27.5,7 24,7.5 20.6,8.2 17.2,8.8 13.7,9.4 10.3,9.7 6.9,9.9 3.4,9.4 0,8.4Z" fill="#e3141f"/><path d="M0,8.2 3.4,9.3 6.9,9.7 10.3,9.6 13.7,9.2 17.2,8.7 20.6,8 24,7.4 27.5,6.9 30.9,6.6 34.3,6.6 37.8,7.1 41.2,8 41.2,21.5 37.8,20.6 34.3,20.1 30.9,20.1 27.5,20.4 24,20.9 20.6,21.5 17.2,22.2 13.7,22.7 10.3,23.1 6.9,23.2 3.4,22.8 0,21.7Z" fill="#111"/><path d="M0,21.6 3.4,22.6 6.9,23.1 10.3,22.9 13.7,22.6 17.2,22 20.6,21.4 24,20.7 27.5,20.2 30.9,19.9 34.3,19.9 37.8,20.4 41.2,21.3 41.2,28.1 37.8,27.3 34.3,26.7 30.9,26.7 27.5,27 24,27.5 20.6,28.2 17.2,28.8 13.7,29.4 10.3,29.8 6.9,29.9 3.4,29.4 0,28.4Z" fill="#1e9a46"/><circle cx="19.5" cy="15" r="3.3" fill="#fff"/><circle cx="20.6" cy="14.8" r="2.7" fill="#111"/><path d="M21.5,14.3 22.6,13.9 22.7,12.7 23.4,13.7 24.6,13.3 23.9,14.3 24.6,15.3 23.4,15 22.7,16 22.6,14.7Z" fill="#fff"/></svg></svg>
<span class="t n" style="left:555.6px;top:1701.6px;transform:scaleX(1.194)">ليبيا</span>
<span class="t v" dir="ltr" style="left:313.9px;top:1699.0px">22.32</span>
<span class="t r" dir="ltr" style="left:715.2px;top:1700.4px">137</span></li>
</ul>
</main>
<footer>
<svg class="g" style="top:1780px" width="780" height="60" viewBox="0 1780 780 60"><g fill="#d2d2d2"><circle cx="635.1" cy="1792.3" r="2.3"/><circle cx="642.6" cy="1792.3" r="2.3"/><circle cx="652.2" cy="1831.3" r="2.3"/><circle cx="660.3" cy="1831.3" r="2.3"/><circle cx="678.5" cy="1831.3" r="2.3"/></g></svg>
<span class="t f" style="left:495.9px;top:1805.7px;transform:scaleX(1.107)">المصدر: موقع</span>
<span class="t f2" dir="ltr" style="left:367.7px;top:1803.7px;transform:scaleX(1.066)">numbeo.com</span>
<span class="t l1" dir="ltr" style="left:624.7px;top:1794.8px;transform:scaleX(0.853)">CNN</span>
<span class="t l2" dir="ltr" style="left:624.7px;top:1794.8px;transform:scaleX(0.853)">CNN</span>
<span class="t l3" style="left:691.8px;top:1794.8px;transform:scaleX(0.604)">بالعربية</span>
<span class="t l4" style="left:691.8px;top:1794.8px;transform:scaleX(0.604)">بالعربية</span>
</footer>
</body>
</html>
